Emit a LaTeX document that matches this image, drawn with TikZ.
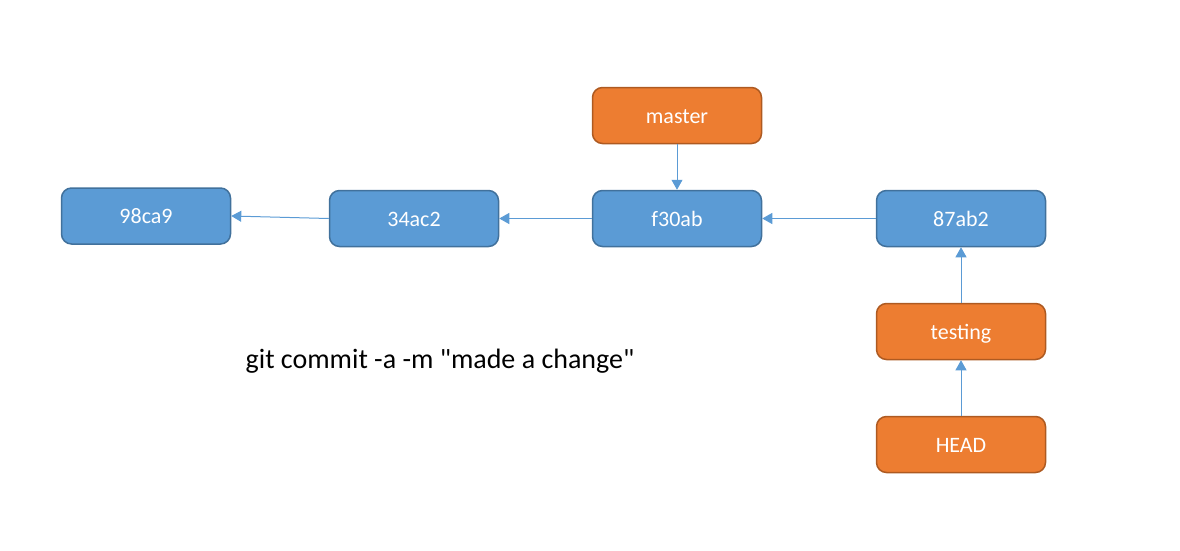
\documentclass[tikz,border=0pt]{standalone}
\usepackage{fontspec}
\setmainfont{Carlito}[Ligatures=TeXOff]
\usetikzlibrary{arrows.meta}
\definecolor{bluefill}{HTML}{5B9BD5}
\definecolor{blueline}{HTML}{41719C}
\definecolor{orangefill}{HTML}{ED7D31}
\definecolor{orangeline}{HTML}{AE5A21}
\tikzset{
  box/.style={rectangle, rounded corners=10pt, line width=1.5pt, inner sep=0pt,
    minimum width=169pt, minimum height=56pt, text=white,
    font=\fontsize{22}{26}\selectfont, text height=15pt, text depth=0pt},
  commit/.style={box, draw=blueline, fill=bluefill},
  ref/.style={box, draw=orangeline, fill=orangefill},
  link/.style={draw=bluefill, line width=1pt, -{Triangle[length=10pt,width=11pt]}}
}
\begin{document}
\begin{tikzpicture}[x=1pt,y=-1pt]
\useasboundingbox (0,0) rectangle (1180,551);
\node[commit] (c1) at (146,216) {98ca9};
\node[commit] (c2) at (414,218.5) {34ac2};
\node[commit] (c3) at (677,218.5) {f30ab};
\node[commit] (c4) at (961,218.5) {87ab2};
\node[ref] (master) at (677,115.5) {master};
\node[ref] (testing) at (961,331.5) {testing};
\node[ref] (head) at (961,444.5) {HEAD};
\node[anchor=base, font=\fontsize{28}{33}\selectfont] (cmd) at (440,368) {git commit -a -m "made a change"};
\draw[link] (c2.west) -- (c1.east);
\draw[link] (c3.west) -- (c2.east);
\draw[link] (c4.west) -- (c3.east);
\draw[link] (master.south) -- (c3.north);
\draw[link] (testing.north) -- (c4.south);
\draw[link] (head.north) -- (testing.south);
\end{tikzpicture}
\end{document}
